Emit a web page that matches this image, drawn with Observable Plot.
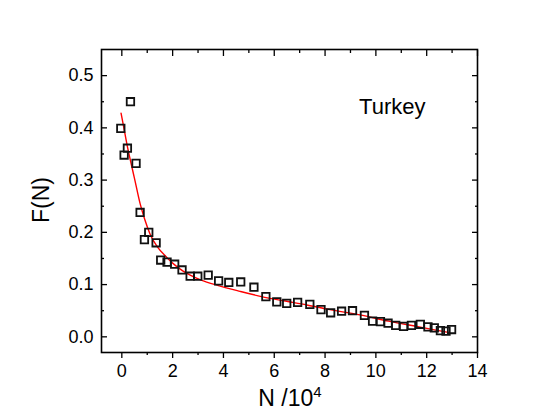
<!DOCTYPE html>
<html>
<head>
<meta charset="utf-8">
<script src="https://cdn.jsdelivr.net/npm/d3@7"></script>
<script src="https://cdn.jsdelivr.net/npm/@observablehq/plot@0.6"></script>
<style>
  html, body { margin: 0; padding: 0; background: #fff; }
  #chart { width: 550px; height: 418px; }
</style>
</head>
<body>
<div id="chart"></div>
<script>
// Observed data (N in units of 10^4, F(N))
const obsN = [-0.04, 0.09, 0.22, 0.34, 0.56, 0.72, 0.89, 1.06, 1.35, 1.53, 1.78, 2.08, 2.37, 2.69, 2.99,
  3.40, 3.81, 4.21, 4.68, 5.20, 5.67, 6.10, 6.49, 6.92, 7.40, 7.84, 8.22, 8.65, 9.08, 9.55,
  9.87, 10.18, 10.48, 10.78, 11.09, 11.40, 11.75, 12.05, 12.30, 12.54, 12.76, 12.98];
const obsF = [0.399, 0.348, 0.361, 0.450, 0.332, 0.238, 0.186, 0.200, 0.180, 0.147, 0.143, 0.139, 0.128, 0.116, 0.116,
  0.118, 0.107, 0.104, 0.105, 0.095, 0.077, 0.067, 0.064, 0.066, 0.062, 0.052, 0.046, 0.049, 0.050, 0.041,
  0.030, 0.029, 0.026, 0.022, 0.020, 0.022, 0.024, 0.019, 0.017, 0.012, 0.011, 0.014];

// Fitted curve
const fitN = [-0.03, 0.1, 0.2, 0.35, 0.5, 0.72, 0.9, 1.11, 1.4, 1.77, 2.2, 2.69, 3.1, 3.8, 4.65, 5.5, 6.36, 7.28, 8.19, 9.37, 10.5, 11.7, 12.9];
const fitF = [0.428, 0.395, 0.369, 0.335, 0.303, 0.255, 0.225, 0.197, 0.172, 0.152, 0.133, 0.118, 0.109, 0.098, 0.087, 0.077, 0.069, 0.061, 0.052, 0.042, 0.030, 0.019, 0.008];

// Ticks
const xMajor = [0, 2, 4, 6, 8, 10, 12, 14];
const xMinor = [1, 3, 5, 7, 9, 11, 13];
const yMajor = [0, 0.1, 0.2, 0.3, 0.4, 0.5];
const yMinor = [0.05, 0.15, 0.25, 0.35, 0.45];
const yTickLabels = ["0.0", "0.1", "0.2", "0.3", "0.4", "0.5"];

const country = "Turkey";

const obs = obsN.map((n, i) => ({n, f: obsF[i]}));
const fit = fitN.map((n, i) => ({n, f: fitF[i]}));

const font = "'Liberation Sans', Arial, sans-serif";

const plot = Plot.plot({
  width: 550,
  height: 418,
  marginLeft: 101,
  marginRight: 73,
  marginTop: 49,
  marginBottom: 66,
  style: {fontFamily: font, fontSize: "18px", background: "#fff", color: "#000"},
  x: {domain: [-0.8, 14]},
  y: {domain: [-0.03, 0.55]},
  marks: [
    // bottom axis: outward ticks + labels
    Plot.axisX({anchor: "bottom", ticks: xMajor, tickSize: 6, tickFormat: d => String(d), tickPadding: 6, label: null, strokeWidth: 1.3, fontSize: 18}),
    Plot.axisX({anchor: "bottom", ticks: xMinor, tickSize: 3, text: null, label: null, strokeWidth: 1.3}),
    // top axis: inward ticks
    Plot.axisX({anchor: "top", ticks: xMajor, tickSize: -6, text: null, label: null, strokeWidth: 1.3}),
    Plot.axisX({anchor: "top", ticks: xMinor, tickSize: -3, text: null, label: null, strokeWidth: 1.3}),
    // left axis: inward ticks + labels
    Plot.axisY({anchor: "left", ticks: yMajor, tickSize: -6, text: null, label: null, strokeWidth: 1.3}),
    Plot.axisY({anchor: "left", ticks: yMinor, tickSize: -3, text: null, label: null, strokeWidth: 1.3}),
    Plot.axisY({anchor: "left", ticks: yMajor, tickSize: 0, tickPadding: 8, tickFormat: (d, i) => yTickLabels[i], label: null, fontSize: 18}),
    // right axis: inward ticks
    Plot.axisY({anchor: "right", ticks: yMajor, tickSize: -6, text: null, label: null, strokeWidth: 1.3}),
    Plot.axisY({anchor: "right", ticks: yMinor, tickSize: -3, text: null, label: null, strokeWidth: 1.3}),
    Plot.line(fit, {x: "n", y: "f", stroke: "#ff0000", strokeWidth: 1.4, curve: "monotone-x"}),
    Plot.dot(obs, {x: "n", y: "f", symbol: "square", r: 4.2, stroke: "#111", strokeWidth: 1.8, fill: "none"}),
    Plot.text([country], {frameAnchor: "top-right", text: d => d, dx: -52, dy: 57, textAnchor: "end", lineAnchor: "middle", fontSize: 22, fill: "#000"}),
    Plot.frame({stroke: "#000", strokeWidth: 1.6})
  ]
});

const svg = d3.select(plot);
// Axis titles
svg.append("text")
  .attr("transform", "translate(49,200) rotate(-90)")
  .attr("text-anchor", "middle")
  .style("font-family", font)
  .style("font-size", "23px")
  .attr("fill", "#000")
  .text("F(N)");

const xl = svg.append("text")
  .attr("x", 290)
  .attr("y", 406)
  .attr("text-anchor", "middle")
  .style("font-family", font)
  .style("font-size", "23px")
  .attr("fill", "#000");
xl.append("tspan").text("N /10");
xl.append("tspan").attr("dy", "-9").style("font-size", "15px").text("4");

document.getElementById("chart").appendChild(plot);
</script>
</body>
</html>
